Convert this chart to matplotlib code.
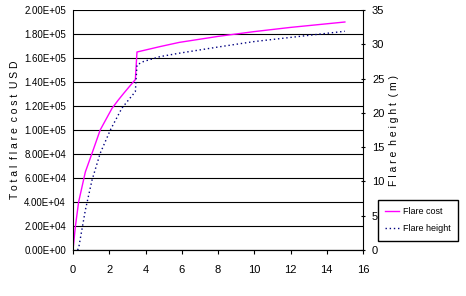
import matplotlib
matplotlib.use('Agg')
from matplotlib import pyplot as plt
from matplotlib.ticker import FuncFormatter

plt.rcParams['font.family'] = ['Liberation Sans', 'DejaVu Sans']
plt.rcParams['font.size'] = 8

# flare cost (USD) vs x
cost_x = [0, 0.13, 0.31, 0.68, 1.05, 1.5, 2.15, 2.5, 2.8, 3.1, 3.44, 3.53, 4.8, 5.86, 8.0, 10.0, 12.0, 15.0]
cost_y = [0, 19400, 40000, 65000, 80600, 100000, 118000, 125000, 130600, 136000, 142000, 165000,
          169500, 173000, 178000, 182000, 185500, 190000]

# flare height (m) vs x
height_x = [0.25, 0.31, 0.68, 1.05, 1.5, 2.06, 2.7, 3.1, 3.44, 3.53, 3.9, 4.8, 5.86, 8.0, 10.0, 12.0, 15.0]
height_y = [0, 0.25, 5.8, 10.2, 14.1, 17.5, 20.7, 22.0, 23.1, 27.0, 27.5, 28.2, 28.7, 29.6, 30.4, 31.0, 31.9]

fig = plt.figure(figsize=(4.66, 2.96), dpi=100)
ax = fig.add_axes([73/466, 1-250/296, 290/466, 240/296])
ax2 = ax.twinx()

l1, = ax.plot(cost_x, cost_y, color='#FF00FF', lw=1.0)
l2, = ax2.plot(height_x, height_y, color='#000080', lw=1.0, ls=(0, (1, 2)))

ax.set_xlim(0, 16)
ax.set_ylim(0, 200000)
ax.set_yticks(range(0, 200001, 20000))
ax.yaxis.set_major_formatter(FuncFormatter(lambda v, p: '%.2E' % v))
ax.set_xticks(range(0, 17, 2))
ax.grid(axis='y', color='black', lw=0.8)
ax.set_axisbelow(True)
ax2.set_ylim(0, 35)
ax2.set_yticks(range(0, 36, 5))

for a in (ax, ax2):
    a.spines['top'].set_visible(False)
ax.spines['right'].set_visible(False)
ax2.spines['left'].set_visible(False)
ax.tick_params(axis='y', length=0, pad=5, labelsize=7)
ax.tick_params(axis='x', length=3, width=0.8, pad=8)
ax2.tick_params(axis='y', length=3, width=0.8, pad=5, direction='inout')

ax.set_ylabel('T o t a l  f l a r e  c o s t  U S D', fontsize=7.5)
ax.yaxis.set_label_coords(-53/290, 0.5)
ax2.set_ylabel('F l a r e  h e i g h t  ( m )', fontsize=7.5)
ax2.yaxis.set_label_coords(1 + 26/290, 0.5)

fig.legend([l1, l2], ['Flare cost', 'Flare height'], loc='upper left',
           bbox_to_anchor=(378/466, 1-200/296), fancybox=False, edgecolor='black',
           framealpha=1, fontsize=6.5, handlelength=1.5, handletextpad=0.5,
           borderpad=0.8, labelspacing=0.9, borderaxespad=0)

fig.savefig('out.png', dpi=100)
